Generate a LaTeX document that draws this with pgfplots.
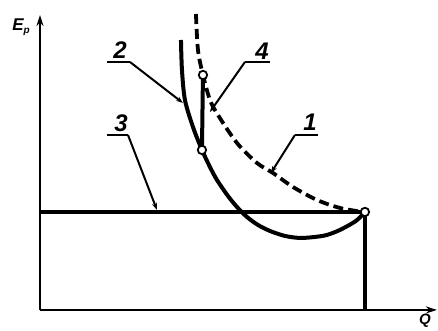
\documentclass[border=0pt]{standalone}
\usepackage{fontspec}
\setmainfont{Liberation Sans}
\usepackage{pgfplots}
\pgfplotsset{compat=1.18}
\usetikzlibrary{arrows.meta}

\tikzset{
  lbl/.style={font=\fontsize{24}{24}\selectfont\bfseries\itshape},
  lead/.style={line width=2pt, -{Stealth[length=7pt,width=5pt]}},
}

\begin{document}
\begin{tikzpicture}
  \begin{axis}[
    width=438pt, height=330pt,
    scale only axis,
    xmin=0, xmax=438, ymin=0, ymax=330,
    hide axis,
    clip=false,
    every axis plot/.append style={black},
  ]

    % keeps the picture at the full frame
    \addplot[draw=none] coordinates {(0,0) (438,330)};

    % axes
    \addplot[line width=2.2pt, -{Stealth[length=11pt,width=7pt]}] coordinates {(40,20) (40,315)};
    \addplot[line width=2.2pt, -{Stealth[length=11pt,width=7pt]}] coordinates {(40,20) (437,20)};

    % 3: horizontal line and drop to the Q axis
    \addplot[line width=3.2pt] coordinates {(40,118) (365,118) (365,20)};

    % 1: dashed curve
    \addplot[line width=3.8pt, dash pattern=on 10pt off 5pt, smooth] coordinates {
      (196,316) (198,280) (203,255) (210,230) (218,215) (237,187)
      (257,167) (273,157) (293,143) (317,130) (340,122) (363,118)
    };

    % 2: solid curve
    \addplot[line width=4pt, smooth] coordinates {
      (181,290) (182,260) (185,230) (193,203) (202,180) (210,163)
      (217,150) (228,134) (237,123) (247,113) (258,105) (270,99)
      (285,94) (300,92) (315,93) (327,95) (340,100) (356,109) (365,118)
    };

    % 4: vertical segment
    \addplot[line width=4pt] coordinates {(202,180) (203,255)};

    % points
    \addplot[only marks, mark=*, mark size=4.2pt,
      mark options={fill=white, draw=black, line width=1.8pt}] coordinates {
      (202,180) (203,255) (365,118)
    };

    % leaders
    \addplot[line width=2pt] coordinates {(107,268) (130,268)};
    \addplot[lead] coordinates {(130,268) (183,227)};
    \addplot[line width=2pt] coordinates {(107,195) (128,195)};
    \addplot[lead] coordinates {(128,195) (157,120)};
    \addplot[line width=2pt] coordinates {(270,268) (245,268)};
    \addplot[lead] coordinates {(245,268) (210,218)};
    \addplot[line width=2pt] coordinates {(318,195) (295,195)};
    \addplot[lead] coordinates {(295,195) (271,157)};

    \node[lbl] at (axis cs:120,280) {2};
    \node[lbl] at (axis cs:121,207) {3};
    \node[lbl] at (axis cs:262,279) {4};
    \node[lbl] at (axis cs:310,208) {1};

    \node[font=\fontsize{17}{17}\selectfont\bfseries\itshape] at (axis cs:21,303)
      {E\raisebox{-0.35ex}{\fontsize{10}{10}\selectfont p}};
    \node[font=\fontsize{15}{15}\selectfont\bfseries\itshape] at (axis cs:425,9) {Q};
  \end{axis}
\end{tikzpicture}
\end{document}
